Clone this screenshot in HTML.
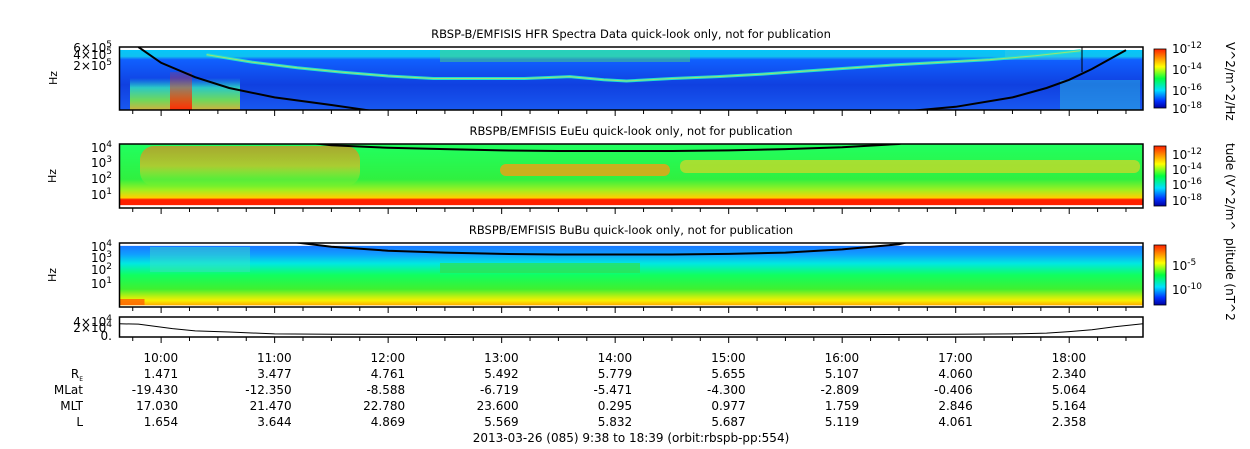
<!DOCTYPE html>
<html><head><meta charset="utf-8"><style>
body{margin:0;background:#fff;}
svg{display:block;font-family:"DejaVu Sans","Liberation Sans",sans-serif;}
text{font-size:12px;fill:#000;}
</style></head><body>
<svg id="c" width="1250" height="449" viewBox="0 0 1250 449">
<defs>
<linearGradient id="cb" x1="0" y1="1" x2="0" y2="0">
<stop offset="0" stop-color="#0000a0"/><stop offset="0.12" stop-color="#0030ff"/><stop offset="0.3" stop-color="#00e0ff"/><stop offset="0.5" stop-color="#00ff40"/><stop offset="0.7" stop-color="#ffff00"/><stop offset="0.85" stop-color="#ff9000"/><stop offset="1" stop-color="#ff2000"/>
</linearGradient>
<linearGradient id="p1bg" x1="0" y1="0" x2="0" y2="1">
<stop offset="0" stop-color="#00c8ff"/><stop offset="0.15" stop-color="#10c0f0"/><stop offset="0.2" stop-color="#1060ff"/><stop offset="0.6" stop-color="#1040e0"/><stop offset="1" stop-color="#1858f0"/>
</linearGradient>
<linearGradient id="p1left" x1="0" y1="0" x2="0" y2="1">
<stop offset="0" stop-color="#20d0e0" stop-opacity="0"/><stop offset="0.3" stop-color="#30e0c0"/><stop offset="0.7" stop-color="#80f040"/><stop offset="1" stop-color="#f0c020"/>
</linearGradient>
<linearGradient id="p1red" x1="0" y1="0" x2="0" y2="1">
<stop offset="0" stop-color="#ff3010" stop-opacity="0.2"/><stop offset="1" stop-color="#ff2000"/>
</linearGradient>
<linearGradient id="p2left" x1="0" y1="0" x2="0" y2="1">
<stop offset="0" stop-color="#ff7010"/><stop offset="0.5" stop-color="#ffb020"/><stop offset="1" stop-color="#f8f020" stop-opacity="0"/>
</linearGradient>
<linearGradient id="p2bg" x1="0" y1="0" x2="0" y2="1">
<stop offset="0" stop-color="#20ff60"/><stop offset="0.55" stop-color="#30f040"/><stop offset="0.72" stop-color="#a0f020"/><stop offset="0.84" stop-color="#ffd000"/><stop offset="0.87" stop-color="#ff2000"/><stop offset="0.95" stop-color="#ff2000"/><stop offset="0.96" stop-color="#fff"/><stop offset="1" stop-color="#fff"/>
</linearGradient>
<linearGradient id="p3bg" x1="0" y1="0" x2="0" y2="1">
<stop offset="0" stop-color="#fff"/><stop offset="0.04" stop-color="#fff"/><stop offset="0.05" stop-color="#1878ff"/><stop offset="0.18" stop-color="#10a0ff"/><stop offset="0.32" stop-color="#00e8e0"/><stop offset="0.5" stop-color="#10ff60"/><stop offset="0.72" stop-color="#40f030"/><stop offset="0.84" stop-color="#c0f010"/><stop offset="0.9" stop-color="#f8f000"/><stop offset="0.97" stop-color="#ffb000"/><stop offset="0.98" stop-color="#fff"/><stop offset="1" stop-color="#fff"/>
</linearGradient>
</defs>
<g id="g"></g>
</svg>
<script>
// time axis (hours UT)
const tStart = 9 + 38/60, tEnd = 18 + 39/60;
const hourTicks = [10,11,12,13,14,15,16,17,18];
const hourLabels = ["10:00","11:00","12:00","13:00","14:00","15:00","16:00","17:00","18:00"];
const rowNames = ["R_E","MLat","MLT","L"];
const reVals = ["1.471","3.477","4.761","5.492","5.779","5.655","5.107","4.060","2.340"];
const mlatVals = ["-19.430","-12.350","-8.588","-6.719","-5.471","-4.300","-2.809","-0.406","5.064"];
const mltVals = ["17.030","21.470","22.780","23.600","0.295","0.977","1.759","2.846","5.164"];
const lVals = ["1.654","3.644","4.869","5.569","5.832","5.687","5.119","4.061","2.358"];
// plasma line (fraction of HFR panel height from top) vs time
const plTimes = [10.4,10.8,11.2,11.6,12.0,12.4,12.8,13.2,13.6,13.9,14.1,14.5,14.9,15.3,15.7,16.1,16.5,16.9,17.3,17.7,18.1];
const plFrac  = [0.12,0.24,0.33,0.40,0.46,0.50,0.50,0.50,0.47,0.52,0.54,0.50,0.47,0.43,0.38,0.33,0.28,0.24,0.20,0.14,0.06];
// cyclotron-type black curves (fraction of panel height from top)
const fcTimes = [9.8,10.0,10.3,10.6,11.0,11.5,12.0,12.5,13.0,13.5,14.0,14.5,15.0,15.5,16.0,16.5,17.0,17.5,17.8,18.0,18.2,18.5];
const fcP1 = [0.0,0.25,0.48,0.65,0.80,0.92,1.05,1.2,1.3,1.35,1.35,1.3,1.25,1.2,1.1,1.03,0.95,0.8,0.65,0.52,0.35,0.05];
const fcP2 = [-1,-1,-0.6,-0.3,-0.08,0.02,0.06,0.08,0.1,0.11,0.11,0.11,0.1,0.08,0.05,0.0,-0.2,-0.6,-1,-1,-1,-1];
const fcP3 = [-1,-1,-0.6,-0.3,-0.05,0.06,0.12,0.15,0.17,0.18,0.18,0.18,0.17,0.15,0.1,0.02,-0.2,-0.6,-1,-1,-1,-1];
// bottom panel line (x10^4)
const ephTimes = [9.63,9.8,9.95,10.1,10.3,10.6,11.0,11.5,12.0,13.0,14.0,15.0,16.0,17.0,17.5,17.8,18.0,18.2,18.4,18.65];
const ephVals  = [3.0,2.9,2.3,1.7,1.1,0.8,0.3,0.2,0.15,0.1,0.1,0.1,0.12,0.2,0.3,0.5,0.9,1.4,2.2,3.0];

const X0=119.5, X1=1143;
const xs = t => X0 + (t - tStart)/(tEnd - tStart)*(X1-X0);
const g = document.getElementById('g');
const NS = "http://www.w3.org/2000/svg";
function el(tag, attrs, parent){const e=document.createElementNS(NS,tag);for(const k in attrs)e.setAttribute(k,attrs[k]);(parent||g).appendChild(e);return e;}
function txt(x,y,s,anchor,size){const e=el('text',{x:x,y:y,'text-anchor':anchor||'start'});if(size)e.style.fontSize=size+'px';e.innerHTML=s;return e;}

const panels=[
 {y:47,h:63,title:"RBSP-B/EMFISIS  HFR Spectra Data quick-look only, not for publication",bg:"url(#p1bg)"},
 {y:144,h:64,title:"RBSPB/EMFISIS  EuEu quick-look only, not for publication",bg:"url(#p2bg)"},
 {y:243,h:64,title:"RBSPB/EMFISIS  BuBu quick-look only, not for publication",bg:"url(#p3bg)"}
];
panels.forEach((p,i)=>{
  const r=el('rect',{x:X0,y:p.y,width:X1-X0,height:p.h,fill:p.bg});
  
  
  const t=txt(631,p.y-9,p.title,'middle',11.5);
  
  
  const cbr=el('rect',{x:1154,y:p.y+2,width:12,height:p.h-4,fill:"url(#cb)",stroke:"#000","stroke-width":0.8});
  
  
});
// panel 1 extras
el('rect',{x:X0,y:47,width:X1-X0,height:3,fill:"#fff"});
el('rect',{x:130,y:78,width:110,height:32,fill:"url(#p1left)",opacity:0.85});
el('rect',{x:170,y:72,width:22,height:38,fill:"url(#p1red)",opacity:0.9});
el('rect',{x:1060,y:80,width:80,height:30,fill:"#30c0e0",opacity:0.45});
el('rect',{x:440,y:50,width:250,height:12,fill:"#50e070",opacity:0.45});
el('rect',{x:1005,y:50,width:75,height:10,fill:"#40d0e0",opacity:0.4});
let d=plTimes.map((t,i)=>(i?'L':'M')+xs(t).toFixed(1)+','+(47+plFrac[i]*63).toFixed(1)).join(' ');
let pl=el('path',{d:d,fill:'none',stroke:'#20e0d0','stroke-width':3});


el('path',{d:d,fill:'none',stroke:'#f0e040','stroke-width':1,opacity:0.6});
// clip paths
['c1','c2','c3'].forEach((id,i)=>{const cp=el('clipPath',{id:id},document.querySelector('defs'));el('rect',{x:X0,y:panels[i].y,width:X1-X0,height:panels[i].h},cp);});
let c1=el('path',{d:fcTimes.map((t,i)=>(i?'L':'M')+xs(t).toFixed(1)+','+(47+fcP1[i]*63).toFixed(1)).join(' '),fill:'none',stroke:'#000','stroke-width':2,'clip-path':'url(#c1)'});


el('line',{x1:1082,y1:47,x2:1082,y2:72,stroke:'#000','stroke-width':1});
// panel 2 extras
el('rect',{x:140,y:146,width:220,height:40,fill:"url(#p2left)",opacity:0.6,rx:14});
el('rect',{x:500,y:164,width:170,height:12,fill:"#ff9a10",opacity:0.75,rx:6});
el('rect',{x:680,y:160,width:460,height:13,fill:"#f8d020",opacity:0.6,rx:6});
let c2=el('path',{d:fcTimes.map((t,i)=>(i?'L':'M')+xs(t).toFixed(1)+','+(144+fcP2[i]*64).toFixed(1)).join(' '),fill:'none',stroke:'#000','stroke-width':2,'clip-path':'url(#c2)'});


let c3=el('path',{d:fcTimes.map((t,i)=>(i?'L':'M')+xs(t).toFixed(1)+','+(243+fcP3[i]*64).toFixed(1)).join(' '),fill:'none',stroke:'#000','stroke-width':2,'clip-path':'url(#c3)'});


// panel 3 extras
el('rect',{x:440,y:263,width:200,height:10,fill:"#30e050",opacity:0.7});
el('rect',{x:150,y:247,width:100,height:25,fill:"#40e0c0",opacity:0.45});
el('rect',{x:X0,y:299,width:25,height:6,fill:"#ff6000",opacity:0.8});
// frames
panels.forEach(p=>el('rect',{x:X0,y:p.y,width:X1-X0,height:p.h,fill:'none',stroke:'#000','stroke-width':1.5}));
// panel 4
const p4=el('rect',{x:X0,y:317,width:X1-X0,height:20,fill:'#fff',stroke:'#000','stroke-width':1.5});


const ys4=v=>335-v/4*15;
let ep=el('path',{d:ephTimes.map((t,i)=>(i?'L':'M')+xs(t).toFixed(1)+','+ys4(ephVals[i]).toFixed(1)).join(' '),fill:'none',stroke:'#000','stroke-width':1});


// x ticks
[110,208,307,337].forEach(yb=>{
  for(let t=9.75;t<=18.7;t+=0.25){const x=xs(t);const major=Math.abs(t-Math.round(t))<0.01;el('line',{x1:x,y1:yb,x2:x,y2:yb+(major?6:4),stroke:'#000','stroke-width':1});}
});
// y labels
function ylab(x,y,base,exp,anchor){const t=el('text',{x:x,y:y,'text-anchor':anchor||'end'});t.style.fontSize='12px';t.innerHTML=base+'<tspan dy="-5" font-size="9">'+exp+'</tspan>';return t;}
[["6×10",5,52],["4×10",5,59],["2×10",5,70]].forEach(a=>ylab(112,a[2],a[0],a[1]));
[[4,152],[3,167],[2,183],[1,199]].forEach(a=>ylab(112,a[1],"10",a[0]));
[[4,251],[3,262],[2,274],[1,288]].forEach(a=>ylab(112,a[1],"10",a[0]));
ylab(112,326,"4×10",4);ylab(112,332,"2×10",4);txt(112,340,"0.","end");
[[57,78],[56,176],[56,275]].forEach(a=>{const t=txt(a[0],a[1],"Hz","middle",11);t.setAttribute('transform','rotate(-90 '+a[0]+' '+a[1]+')');});
// colorbar labels
[[-12,53],[-14,74],[-16,95],[-18,113]].forEach(a=>ylab(1172,a[1],"10",a[0],'start'));
[[-12,159],[-14,174],[-16,189],[-18,205]].forEach(a=>ylab(1172,a[1],"10",a[0],'start'));
[[-5,270],[-10,294]].forEach(a=>ylab(1172,a[1],"10",a[0],'start'));
[["V^2/m^2/Hz",42],["tude (V^2/m^",143],["plitude (nT^2",238]].forEach(a=>{const t=txt(1226,a[1],a[0],'start',12);t.setAttribute('transform','rotate(90 1226 '+a[1]+')');});
// table
const rows=[hourLabels,reVals,mlatVals,mltVals,lVals];
const rowY=[362,378,394,410,426];
hourTicks.forEach((h,i)=>{rows.forEach((r,j)=>{const t=txt(xs(h)+17,rowY[j],r[i],'end',12);});});
txt(83,378,'R<tspan font-size="6" dy="3">E</tspan>','end');
txt(83,394,"MLat","end");txt(83,410,"MLT","end");txt(83,426,"L","end");
const ft=txt(631,442,"2013-03-26 (085) 9:38 to 18:39 (orbit:rbspb-pp:554)","middle",12);


</script>
</body></html>
